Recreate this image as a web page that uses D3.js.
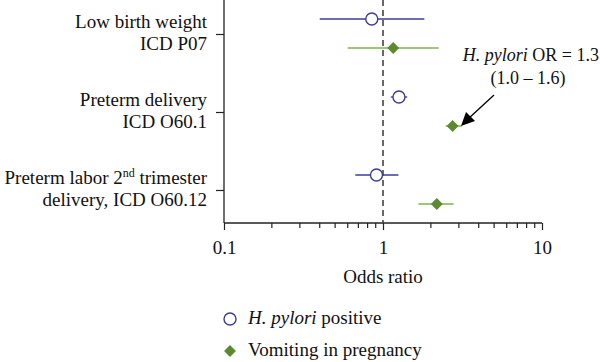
<!DOCTYPE html>
<html>
<head>
<script src="https://d3js.org/d3.v7.min.js"></script>
<style>
  body { margin: 0; background: #fff; }
  text { font-family: "Liberation Serif", "Times New Roman", serif; fill: #111; }
</style>
</head>
<body>
<script>
var categories = ["Low birth weight", "Preterm delivery", "Preterm labor"];
var labelLines = [["Low birth weight", "ICD P07"], ["Preterm delivery", "ICD O60.1"], ["Preterm labor 2nd trimester", "delivery, ICD O60.12"]];
var pyloriOR = [0.85, 1.26, 0.91];
var pyloriLo = [0.40, 1.12, 0.67];
var pyloriHi = [1.82, 1.42, 1.25];
var vomitOR = [1.16, 2.74, 2.18];
var vomitLo = [0.60, 2.48, 1.67];
var vomitHi = [2.24, 3.13, 2.78];
var xTicks = [0.1, 1, 10];

var W = 600, H = 362;
var mLeft = 224, mRight = 542, mTop = 0, mBottom = 223;
var fs = "19px";
var blue = "#3d3c96", green = "#5c8a30", greenLine = "#80b24c";

var svg = d3.select("body").append("svg").attr("width", W).attr("height", H);

var x = d3.scaleLog().domain([0.1, 10]).range([mLeft, mRight]);
var y = d3.scalePoint().domain(categories).range([34, 190]);

// axes
var xAxis = svg.append("g").attr("transform", "translate(0," + mBottom + ")")
  .call(d3.axisBottom(x).tickValues(xTicks).tickFormat(d3.format("")).tickSize(7).tickPadding(11));
// minor ticks
var minor = [];
[0.1, 1].forEach(function(b) { for (var i = 2; i <= 9; i++) minor.push(b * i); });
xAxis.selectAll(".minor").data(minor).enter().append("line")
  .attr("class", "minor")
  .attr("x1", function(d) { return x(d); }).attr("x2", function(d) { return x(d); })
  .attr("y1", 0).attr("y2", 5).attr("stroke", "#222").attr("stroke-width", 1.2);
xAxis.select(".domain").attr("d", "M" + mLeft + ",0H" + mRight).attr("stroke", "#222").attr("stroke-width", 1.3);
xAxis.selectAll(".tick line").attr("stroke", "#222").attr("stroke-width", 1.2);
xAxis.selectAll(".tick text").style("font-size", fs).style("font-family", "Liberation Serif, serif").attr("fill", "#111");

var yAxis = svg.append("g").attr("transform", "translate(" + mLeft + ",0)")
  .call(d3.axisLeft(y).tickSize(8).tickFormat(""));
yAxis.select(".domain").attr("d", "M0," + mTop + "V" + mBottom).attr("stroke", "#222").attr("stroke-width", 1.3);
yAxis.selectAll(".tick line").attr("stroke", "#222").attr("stroke-width", 1.2);

// category labels
categories.forEach(function(c, i) {
  var t = svg.append("text").attr("text-anchor", "end").style("font-size", fs);
  var l1 = t.append("tspan").attr("x", 207).attr("y", y(c) - 6);
  if (i === 2) {
    l1.append("tspan").text("Preterm labor 2");
    l1.append("tspan").attr("dy", -7).style("font-size", "12px").text("nd");
    l1.append("tspan").attr("dy", 7).text(" trimester");
  } else {
    l1.text(labelLines[i][0]);
  }
  t.append("tspan").attr("x", 207).attr("y", y(c) + 16).text(labelLines[i][1]);
});

// reference line at OR = 1
svg.append("line").attr("x1", x(1)).attr("x2", x(1)).attr("y1", mTop).attr("y2", mBottom)
  .attr("stroke", "#444").attr("stroke-width", 1.6).attr("stroke-dasharray", "6,4");

var offP = -15, offV = 14;

// CI lines
svg.selectAll(".ciP").data(categories).enter().append("line")
  .attr("x1", function(d, i) { return x(pyloriLo[i]); })
  .attr("x2", function(d, i) { return x(pyloriHi[i]); })
  .attr("y1", function(d) { return y(d) + offP; })
  .attr("y2", function(d) { return y(d) + offP; })
  .attr("stroke", blue).attr("stroke-width", 1.3);
svg.selectAll(".ciV").data(categories).enter().append("line")
  .attr("x1", function(d, i) { return x(vomitLo[i]); })
  .attr("x2", function(d, i) { return x(vomitHi[i]); })
  .attr("y1", function(d) { return y(d) + offV; })
  .attr("y2", function(d) { return y(d) + offV; })
  .attr("stroke", greenLine).attr("stroke-width", 1.5);

// markers
svg.selectAll(".ptP").data(categories).enter().append("circle")
  .attr("cx", function(d, i) { return x(pyloriOR[i]); })
  .attr("cy", function(d) { return y(d) + offP; })
  .attr("r", 6).attr("fill", "#fff").attr("stroke", blue).attr("stroke-width", 1.4);
var diamond = d3.symbol().type(d3.symbolDiamond2).size(90);
svg.selectAll(".ptV").data(categories).enter().append("path")
  .attr("d", diamond)
  .attr("transform", function(d, i) { return "translate(" + x(vomitOR[i]) + "," + (y(d) + offV) + ")"; })
  .attr("fill", green);

// annotation
var ann = svg.append("text").attr("text-anchor", "end").style("font-size", "18px");
ann.append("tspan").attr("x", 599).attr("y", 61).style("font-style", "italic").text("H. pylori");
ann.append("tspan").text(" OR = 1.3");
svg.append("text").attr("x", 528).attr("y", 84).attr("text-anchor", "middle").style("font-size", "18px").text("(1.0 \u2013 1.6)");

svg.append("line").attr("x1", 494).attr("y1", 95).attr("x2", 468).attr("y2", 119)
  .attr("stroke", "#000").attr("stroke-width", 1.3);
svg.append("path").attr("d", "M461,126L466,112L475,121Z").attr("fill", "#000");

// axis title
svg.append("text").attr("x", x(1)).attr("y", 283).attr("text-anchor", "middle").style("font-size", fs).text("Odds ratio");

// legend
svg.append("circle").attr("cx", 230).attr("cy", 319).attr("r", 6).attr("fill", "#fff").attr("stroke", blue).attr("stroke-width", 1.4);
var lt = svg.append("text").attr("x", 248).attr("y", 324).style("font-size", fs);
lt.append("tspan").style("font-style", "italic").text("H. pylori");
lt.append("tspan").text(" positive");
svg.append("path").attr("d", diamond).attr("transform", "translate(230,351)").attr("fill", green);
svg.append("text").attr("x", 248).attr("y", 356).style("font-size", fs).text("Vomiting in pregnancy");
</script>
</body>
</html>
